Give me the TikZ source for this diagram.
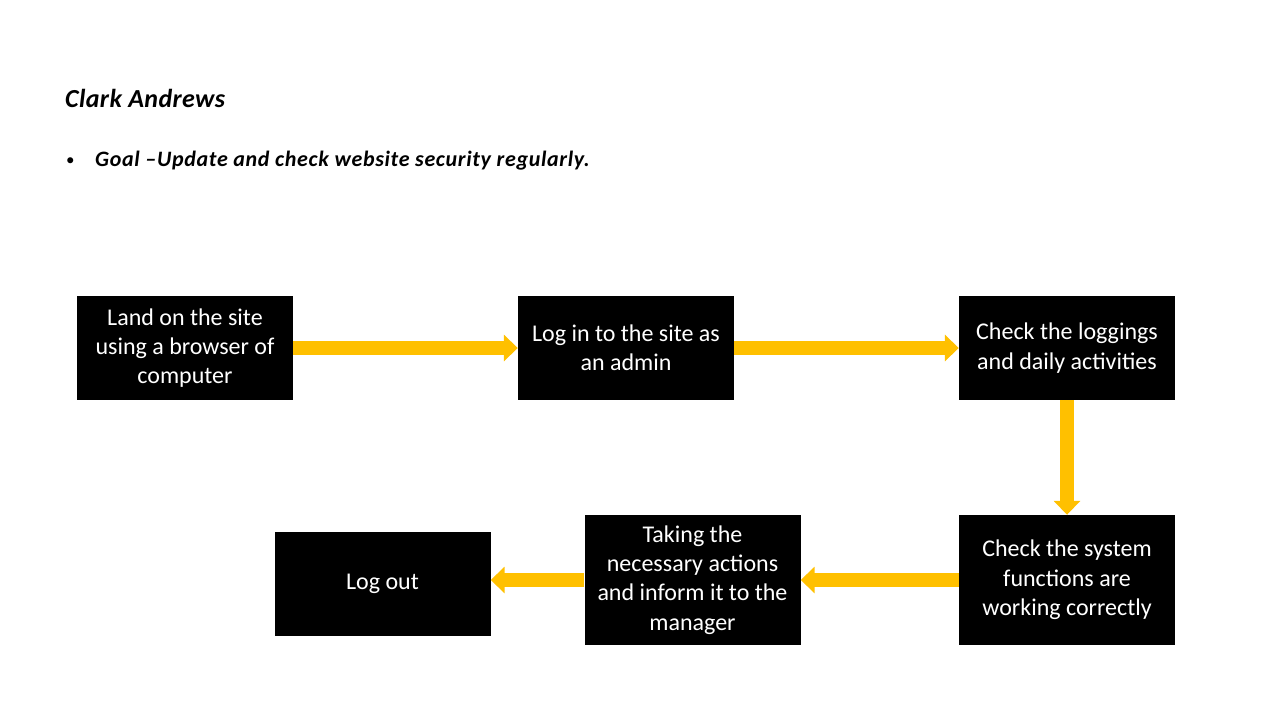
\documentclass[tikz,border=0pt]{standalone}
\usepackage{fontspec}
\setmainfont{Carlito}
\usetikzlibrary{arrows.meta, positioning}
\definecolor{arrowyellow}{HTML}{FFC000}
\newcommand{\boxfont}{\fontsize{24}{29.3}\selectfont}

\begin{document}
\begin{tikzpicture}[x=1pt, y=-1pt, >=Triangle,
    stepbox/.style={fill=black, text=white, minimum width=216pt, minimum height=104pt,
        inner sep=0pt, align=center, font=\boxfont},
    flowarrow/.style={draw=arrowyellow, line width=14pt, -{Triangle[width=26pt, length=14pt]}}]
    \useasboundingbox (0, 0) rectangle (1280, 720);
    % heading
    \node[anchor=base west, inner sep=0pt, font=\fontsize{26}{30}\selectfont\bfseries\itshape\addfontfeature{LetterSpace=1.5}] (name) at (65, 107) {Clark Andrews};
    \node[anchor=base west, inner sep=0pt, font=\fontsize{17}{20}\selectfont] (dot) at (66, 165) {\textbullet};
    \node[anchor=base west, inner sep=0pt, font=\fontsize{22}{26}\selectfont\bfseries\itshape\addfontfeature{LetterSpace=3}] (goal) at (95, 166) {Goal \textendash Update and check website security regularly.};
    % top row
    \node[stepbox] (land) at (185, 348) {Land on the site\\using a browser of\\computer};
    \node[stepbox] (login) at (626, 348) {Log in to the site as\\an admin};
    \node[stepbox] (logs) at (1067, 348) {Check the loggings\\and daily activities};
    % bottom row
    \node[stepbox, minimum height=130pt] (funcs) at (1067, 580) {Check the system\\functions are\\working correctly};
    \node[stepbox, minimum height=130pt] (act) at (692.5, 580) {Taking the\\necessary actions\\and inform it to the\\manager};
    \node[stepbox] (out) at (382.5, 584) {Log out};
    % arrows
    \draw[flowarrow] (land.east) -- (login.west);
    \draw[flowarrow] (login.east) -- (logs.west);
    \draw[flowarrow] (logs.south) -- (funcs.north);
    \draw[flowarrow] (funcs.west) -- (act.east);
    \draw[flowarrow] (act.west) -- (act.west -| out.east);
\end{tikzpicture}
\end{document}
